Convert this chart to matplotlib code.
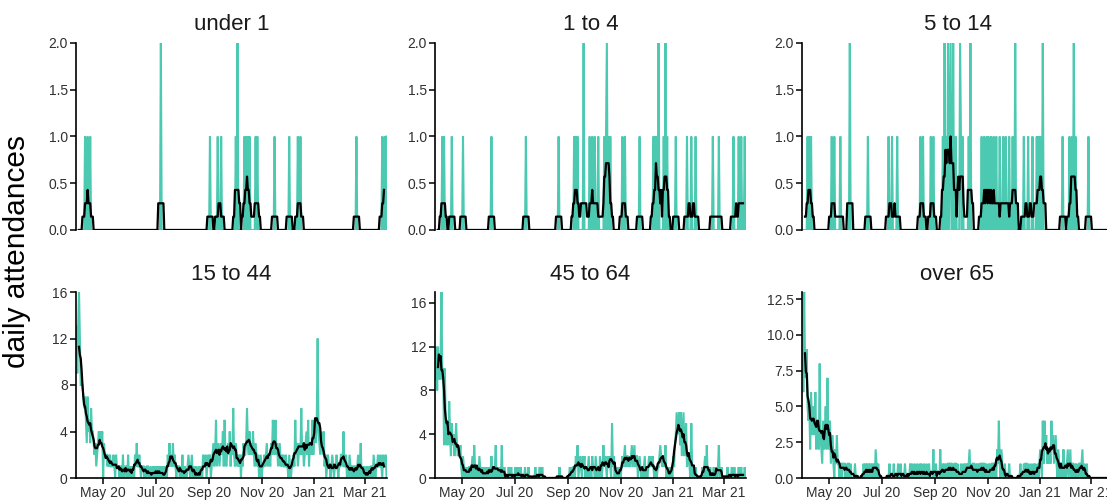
import numpy as np
import pandas as pd
import matplotlib
matplotlib.use("Agg")
import matplotlib.pyplot as plt
import matplotlib.dates as mdates
from matplotlib.ticker import FormatStrFormatter

plt.rcParams['font.family'] = ['Liberation Sans', 'DejaVu Sans']

# daily series: 2020-03-31 .. 2021-03-26
start_date = "2020-03-31"
n_days = 361
dates = pd.date_range(start_date, periods=n_days, freq="D")

panel_titles = ["under 1", "1 to 4", "5 to 14", "15 to 44", "45 to 64", "over 65"]

# sparse age groups: day index -> attendances (all other days are 0)
under1_days = [10, 13, 16, 98, 155, 164, 168, 185, 187, 195, 197, 199, 201,
               208, 210, 230, 247, 257, 260, 325, 355, 358, 360]
under1_counts = [1, 1, 1, 2, 1, 1, 1, 1, 2, 1, 1, 1, 1,
                 1, 1, 1, 1, 1, 1, 1, 1, 1, 1]

age1to4_days = [8, 10, 19, 32, 65, 105, 143, 161, 163, 165, 172, 179, 182, 185, 189,
                196, 198, 199, 201, 203, 217, 220, 237, 253, 255, 257, 259, 265, 267, 269,
                279, 292, 297, 302, 322, 329, 346, 352, 355, 359]
age1to4_counts = [1, 1, 1, 1, 1, 1, 1, 1, 1, 1, 2, 1, 1, 1, 1,
                  1, 1, 2, 1, 1, 1, 1, 1, 1, 1, 1, 2, 1, 2, 1,
                  1, 1, 1, 1, 1, 1, 1, 1, 1, 1]

age5to14_days = [6, 8, 10, 34, 37, 44, 55, 76, 100, 104, 110, 137, 140, 149, 152,
                 163, 165, 167, 169, 171, 172, 175, 178, 183, 184, 186, 193, 195,
                 208, 211, 214, 216, 219, 222, 225, 229, 233, 236, 240, 244, 247,
                 257, 262, 267, 272, 274, 276, 279, 302, 310, 313, 315, 317, 332]
age5to14_counts = [1, 1, 1, 1, 1, 1, 2, 1, 1, 1, 1, 1, 1, 1, 1,
                   1, 2, 1, 2, 1, 2, 2, 1, 2, 1, 1, 1, 2,
                   1, 1, 1, 1, 1, 1, 1, 1, 1, 1, 1, 1, 2,
                   1, 1, 1, 1, 1, 1, 2, 1, 1, 1, 2, 1, 1]

# dense age groups, one row per week
age15to44 = [
    13, 9, 13, 16, 12, 8, 8,
    8, 7, 6, 7, 5, 3, 7,
    4, 5, 3, 6, 4, 4, 3,
    2, 3, 1, 2, 3, 4, 3,
    4, 3, 4, 0, 3, 2, 2,
    2, 1, 2, 1, 2, 1, 1,
    1, 2, 1, 0, 2, 1, 1,
    1, 0, 1, 1, 0, 2, 0,
    0, 1, 1, 0, 2, 0, 1,
    0, 1, 0, 1, 0, 2, 1,
    3, 1, 1, 2, 1, 0, 1,
    1, 1, 0, 1, 0, 1, 1,
    0, 0, 1, 0, 0, 1, 0,
    1, 0, 1, 0, 1, 0, 1,
    0, 1, 0, 0, 1, 0, 0,
    0, 2, 1, 3, 1, 2, 1,
    3, 1, 2, 1, 0, 1, 1,
    1, 0, 1, 0, 2, 0, 0,
    1, 0, 0, 1, 2, 1, 0,
    1, 2, 0, 1, 0, 0, 1,
    0, 0, 1, 0, 0, 1, 0,
    2, 1, 1, 2, 0, 1, 2,
    1, 2, 0, 1, 2, 3, 1,
    2, 5, 1, 2, 3, 1, 2,
    3, 2, 4, 1, 5, 2, 1,
    2, 3, 2, 4, 1, 3, 2,
    6, 2, 1, 3, 2, 1, 2,
    1, 2, 0, 2, 1, 3, 2,
    2, 3, 6, 3, 2, 4, 2,
    3, 2, 4, 2, 1, 3, 2,
    1, 2, 0, 1, 2, 0, 1,
    1, 2, 1, 2, 3, 1, 2,
    2, 1, 3, 2, 5, 3, 2,
    5, 2, 3, 1, 2, 3, 1,
    2, 1, 2, 1, 1, 2, 1,
    1, 0, 2, 1, 0, 1, 1,
    2, 1, 5, 2, 3, 1, 2,
    3, 2, 6, 2, 3, 1, 2,
    3, 4, 2, 5, 1, 3, 2,
    3, 5, 2, 4, 5, 3, 5,
    12, 4, 3, 2, 4, 3, 2,
    4, 1, 2, 0, 1, 2, 1,
    1, 0, 1, 2, 1, 0, 1,
    1, 2, 1, 0, 1, 1, 2,
    2, 1, 4, 1, 1, 2, 0,
    1, 0, 2, 1, 0, 1, 1,
    0, 1, 1, 0, 1, 2, 0,
    1, 3, 0, 1, 0, 1, 0,
    0, 1, 0, 0, 1, 0, 1,
    1, 0, 2, 1, 0, 1, 1,
    2, 1, 1, 2, 1, 0, 2,
    1, 1, 2, 0,
]

age45to64 = [
    9, 12, 8, 12, 10, 9, 11,
    17, 9, 10, 3, 10, 4, 3,
    5, 3, 7, 4, 2, 5, 3,
    4, 2, 3, 5, 3, 2, 3,
    2, 3, 1, 0, 2, 1, 0,
    1, 0, 1, 0, 1, 1, 0,
    1, 2, 0, 3, 1, 0, 1,
    1, 0, 2, 1, 0, 1, 0,
    0, 1, 0, 1, 0, 1, 0,
    1, 0, 2, 0, 1, 0, 1,
    3, 0, 1, 0, 1, 0, 0,
    3, 0, 0, 1, 0, 0, 0,
    0, 1, 0, 0, 1, 0, 0,
    0, 0, 1, 0, 0, 1, 0,
    0, 1, 0, 0, 0, 0, 1,
    0, 0, 0, 1, 0, 0, 0,
    0, 0, 0, 0, 1, 0, 0,
    0, 0, 1, 0, 0, 1, 0,
    0, 0, 0, 0, 0, 0, 0,
    0, 0, 0, 0, 0, 0, 0,
    0, 0, 0, 0, 1, 0, 0,
    0, 0, 0, 0, 0, 0, 0,
    0, 0, 1, 0, 1, 0, 1,
    1, 0, 2, 1, 3, 0, 1,
    2, 1, 0, 2, 1, 2, 0,
    1, 0, 1, 2, 0, 1, 0,
    2, 1, 1, 0, 2, 1, 0,
    1, 0, 2, 1, 0, 1, 3,
    1, 2, 1, 0, 2, 1, 2,
    1, 0, 5, 1, 2, 0, 1,
    0, 1, 0, 0, 1, 0, 1,
    2, 1, 2, 3, 1, 2, 2,
    1, 2, 1, 2, 3, 1, 2,
    3, 1, 2, 2, 0, 1, 2,
    1, 0, 1, 0, 1, 2, 0,
    1, 0, 1, 2, 1, 2, 1,
    2, 1, 0, 1, 1, 0, 1,
    1, 2, 3, 2, 1, 2, 2,
    1, 3, 0, 1, 0, 0, 1,
    0, 1, 0, 2, 1, 3, 4,
    6, 5, 4, 6, 3, 6, 2,
    4, 6, 2, 3, 5, 1, 2,
    2, 1, 0, 5, 1, 0, 1,
    0, 1, 0, 0, 0, 0, 0,
    0, 0, 1, 0, 1, 2, 0,
    3, 0, 1, 0, 1, 0, 0,
    0, 1, 0, 1, 0, 0, 1,
    3, 0, 0, 1, 0, 0, 0,
    0, 0, 0, 1, 0, 0, 0,
    0, 1, 0, 0, 1, 0, 0,
    0, 0, 1, 0, 0, 1, 0,
    0, 0, 1, 0,
]

over65 = [
    13, 6, 13, 8, 7, 9, 5,
    4, 5, 2, 6, 4, 3, 5,
    3, 6, 2, 4, 3, 2, 8,
    3, 2, 1, 4, 2, 3, 5,
    2, 7, 3, 2, 4, 1, 2,
    3, 1, 0, 2, 1, 3, 1,
    1, 0, 1, 1, 0, 1, 1,
    1, 0, 1, 0, 1, 1, 0,
    1, 0, 0, 0, 0, 1, 0,
    0, 0, 0, 0, 0, 0, 0,
    0, 1, 0, 1, 0, 1, 0,
    1, 0, 1, 0, 1, 0, 1,
    0, 2, 1, 0, 1, 0, 0,
    0, 0, 0, 0, 0, 0, 0,
    0, 0, 0, 1, 0, 0, 0,
    0, 1, 0, 0, 0, 0, 1,
    0, 0, 1, 0, 0, 0, 0,
    1, 0, 0, 0, 0, 0, 1,
    0, 1, 0, 0, 1, 0, 0,
    1, 0, 0, 1, 0, 1, 0,
    0, 1, 0, 0, 1, 0, 0,
    1, 0, 0, 0, 0, 2, 0,
    0, 1, 0, 0, 0, 0, 2,
    0, 0, 1, 0, 1, 0, 1,
    0, 1, 1, 0, 1, 1, 0,
    1, 0, 1, 1, 0, 1, 0,
    0, 0, 1, 0, 0, 1, 0,
    1, 0, 1, 0, 1, 2, 0,
    1, 0, 1, 1, 0, 1, 0,
    1, 0, 1, 0, 1, 1, 0,
    1, 1, 0, 1, 0, 0, 1,
    0, 1, 0, 1, 1, 0, 1,
    1, 0, 2, 1, 4, 1, 0,
    2, 1, 0, 0, 1, 0, 0,
    0, 0, 1, 0, 0, 0, 0,
    0, 0, 0, 0, 0, 0, 0,
    0, 1, 0, 0, 0, 1, 0,
    1, 1, 0, 1, 0, 0, 1,
    0, 0, 1, 0, 1, 0, 0,
    1, 0, 1, 2, 1, 0, 4,
    1, 4, 2, 3, 1, 2, 1,
    2, 1, 4, 2, 3, 1, 2,
    3, 1, 0, 2, 1, 0, 1,
    1, 0, 2, 0, 1, 0, 1,
    2, 0, 1, 2, 0, 1, 1,
    0, 1, 0, 1, 0, 0, 1,
    1, 0, 1, 2, 0, 1, 0,
    0, 1, 0, 0, 0, 0, 0,
    0, 0, 0, 0, 0, 0, 0,
    0, 0, 0, 0, 0, 0, 0,
    0, 0, 0, 0, 0, 0, 0,
    0, 0, 0, 0,
]


def sparse_to_daily(days, counts):
    vals = np.zeros(n_days)
    vals[days] = counts
    return vals


series = [
    sparse_to_daily(under1_days, under1_counts),
    sparse_to_daily(age1to4_days, age1to4_counts),
    sparse_to_daily(age5to14_days, age5to14_counts),
    np.array(age15to44[:n_days], dtype=float),
    np.array(age45to64[:n_days], dtype=float),
    np.array(over65[:n_days], dtype=float),
]

teal = "#4CC9B1"
W, H = 1107, 504
fig = plt.figure(figsize=(W / 100, H / 100), dpi=100)

col_left = [76, 435, 802]
panel_w = 311
row_top = [43, 292]
panel_h = [187, 186]

y_ticks = [
    [0, 0.5, 1.0, 1.5, 2.0], [0, 0.5, 1.0, 1.5, 2.0], [0, 0.5, 1.0, 1.5, 2.0],
    [0, 4, 8, 12, 16], [0, 4, 8, 12, 16], [0, 2.5, 5.0, 7.5, 10.0, 12.5],
]
y_fmt = ["%.1f", "%.1f", "%.1f", "%d", "%d", "%.1f"]

x_lo = pd.Timestamp(start_date) - pd.Timedelta(hours=12)
x_hi = dates[-1] + pd.Timedelta(hours=12)

for i, (title, vals) in enumerate(zip(panel_titles, series)):
    r, c = divmod(i, 3)
    ax = fig.add_axes([col_left[c] / W, 1 - (row_top[r] + panel_h[r]) / H,
                       panel_w / W, panel_h[r] / H])
    roll = pd.Series(vals).rolling(7, center=True).mean()
    ax.plot(dates, vals, color=teal, lw=1.5, solid_joinstyle="miter")
    ax.plot(dates, roll, color="black", lw=1.6)
    ax.set_xlim(x_lo, x_hi)
    ax.set_ylim(0, 2.0 if r == 0 else vals.max())
    ax.set_yticks(y_ticks[i])
    ax.yaxis.set_major_formatter(FormatStrFormatter(y_fmt[i]))
    ax.set_title(title, fontsize=16, pad=9, color="#1a1a1a")
    for s in ["top", "right"]:
        ax.spines[s].set_visible(False)
    for s in ["left", "bottom"]:
        ax.spines[s].set_linewidth(1.2)
    ax.tick_params(axis="both", labelsize=10, length=4, width=1.1,
                   colors="black", labelcolor="#303030", pad=2)
    ax.xaxis.set_major_locator(mdates.MonthLocator(bymonth=[1, 3, 5, 7, 9, 11]))
    ax.xaxis.set_major_formatter(mdates.DateFormatter("%b %y"))
    if r == 0:
        ax.spines["bottom"].set_visible(False)
        ax.tick_params(axis="x", bottom=False, labelbottom=False)

fig.text(17 / W, 0.5, "daily attendances", rotation=90, fontsize=21.5,
         ha="center", va="center")

fig.savefig("out.png", dpi=100)
